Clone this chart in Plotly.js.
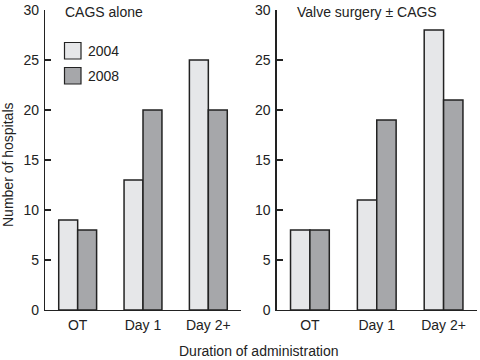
<!DOCTYPE html>
<html>
<head>
<meta charset="utf-8">
<script src="https://cdn.plot.ly/plotly-3.0.1.min.js"></script>
<style>html,body{margin:0;padding:0;background:#fff}#chart{width:480px;height:360px}</style>
</head>
<body>
<div id="chart"></div>
<script>
var categories = ["OT", "Day 1", "Day 2+"];
var seriesNames = ["2004", "2008"];
var cagsAlone2004 = [9, 13, 25];
var cagsAlone2008 = [8, 20, 20];
var valve2004 = [8, 11, 28];
var valve2008 = [8, 19, 21];
var panelTitles = ["CAGS alone", "Valve surgery \u00b1 CAGS"];
var yTitle = "Number of hospitals";
var xTitle = "Duration of administration";

var light = "#e6e7e9", dark = "#a6a7aa", ink = "#222222";
var fontFam = "Liberation Sans, Arial, Helvetica, sans-serif";

function bar(y, color, xa, ya, name) {
  return {type: "bar", x: categories, y: y, xaxis: xa, yaxis: ya, name: name,
    marker: {color: color, line: {color: ink, width: 1.5}}, showlegend: false, hoverinfo: "none"};
}
var data = [
  bar(cagsAlone2004, light, "x", "y", seriesNames[0]),
  bar(cagsAlone2008, dark, "x", "y", seriesNames[1]),
  bar(valve2004, light, "x2", "y2", seriesNames[0]),
  bar(valve2008, dark, "x2", "y2", seriesNames[1])
];

// pixel helpers for paper coordinates
var L = 45, T = 10, W = 432, H = 300;
function px(x) { return (x - L) / W; }
function py(y) { return (T + H - y) / H; }

var xax = {type: "category", range: [-0.5, 2.5], showline: true, linecolor: ink, linewidth: 1.2,
  ticks: "", showgrid: false, zeroline: false, fixedrange: true, ticklabelstandoff: 2,
  tickfont: {family: fontFam, size: 14, color: ink}};
var yax = {range: [0, 30], dtick: 5, showline: true, linecolor: ink, linewidth: 1.2,
  ticks: "inside", ticklen: 6, tickcolor: ink, tickwidth: 1.2, showgrid: false, zeroline: false,
  ticklabelstandoff: 2,
  tickfont: {family: fontFam, size: 14, color: ink}};

var layout = {
  width: 480, height: 360,
  margin: {l: L, r: 3, t: T, b: 50},
  paper_bgcolor: "#fff", plot_bgcolor: "#fff",
  barmode: "group", bargap: 0.42, bargroupgap: 0,
  font: {family: fontFam, size: 14, color: ink},
  xaxis: Object.assign({}, xax, {domain: [0, px(241)], anchor: "y"}),
  xaxis2: Object.assign({}, xax, {domain: [px(276.5), 1], anchor: "y2"}),
  yaxis: Object.assign({}, yax, {anchor: "x"}),
  yaxis2: Object.assign({}, yax, {anchor: "x2"}),
  shapes: [
    {type: "rect", xref: "paper", yref: "paper", x0: px(64.5), x1: px(81), y0: py(42.5), y1: py(59),
      fillcolor: light, line: {color: ink, width: 1.2}},
    {type: "rect", xref: "paper", yref: "paper", x0: px(64.5), x1: px(81), y0: py(67.5), y1: py(84),
      fillcolor: dark, line: {color: ink, width: 1.2}}
  ],
  annotations: [
    {text: panelTitles[0], xref: "paper", yref: "paper", x: px(63), y: py(12), xanchor: "left", yanchor: "middle", showarrow: false, font: {size: 14}},
    {text: panelTitles[1], xref: "paper", yref: "paper", x: px(295), y: py(12), xanchor: "left", yanchor: "middle", showarrow: false, font: {size: 14}},
    {text: seriesNames[0], xref: "paper", yref: "paper", x: px(86), y: py(51), xanchor: "left", yanchor: "middle", showarrow: false, font: {size: 14}},
    {text: seriesNames[1], xref: "paper", yref: "paper", x: px(86), y: py(76), xanchor: "left", yanchor: "middle", showarrow: false, font: {size: 14}},
    {text: yTitle, xref: "paper", yref: "paper", x: px(8), y: py(165), xanchor: "center", yanchor: "middle", textangle: -90, showarrow: false, font: {size: 14}},
    {text: xTitle, xref: "paper", yref: "paper", x: px(259), y: py(351), xanchor: "center", yanchor: "middle", showarrow: false, font: {size: 14}}
  ]
};
Plotly.newPlot("chart", data, layout, {staticPlot: true, displayModeBar: false});
</script>
</body>
</html>
